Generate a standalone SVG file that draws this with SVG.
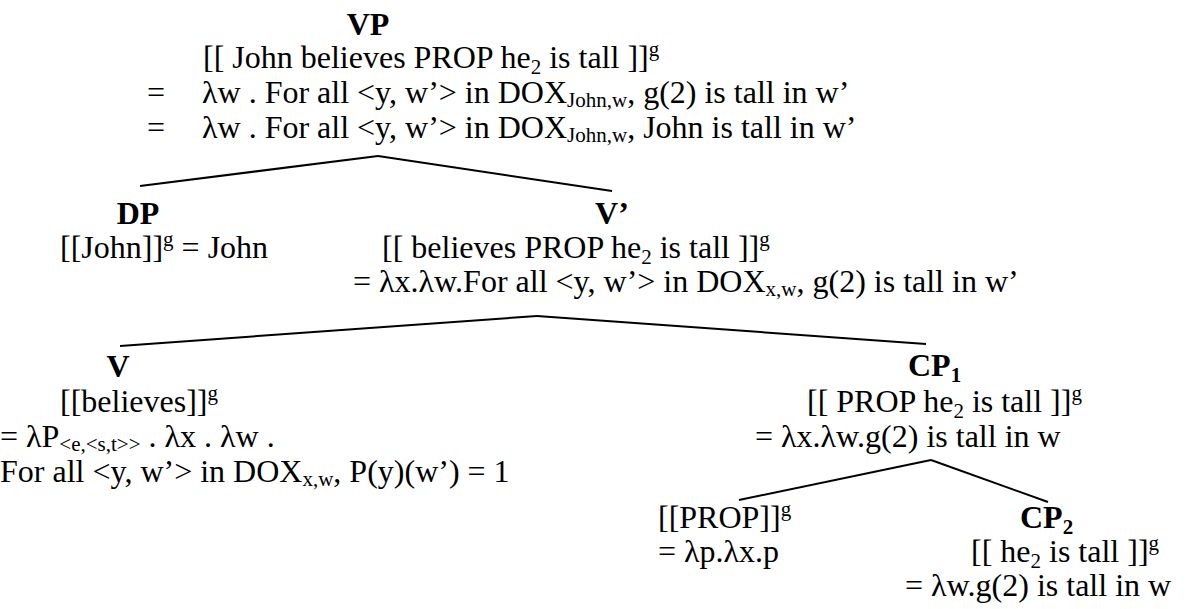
<svg xmlns="http://www.w3.org/2000/svg" width="1187" height="609" viewBox="0 0 1187 609">
<style>
text{font-family:"Liberation Serif","Times New Roman",serif;font-size:32px;fill:#000}
.b{font-weight:bold}
.s{font-size:21px}
.conn line{stroke:#000;stroke-width:2}
</style>
<rect width="1187" height="609" fill="#fff"/>
<g id="VP">
<text class="b" x="368" y="35" text-anchor="middle">VP</text>
<text x="203" y="68">[[ John believes PROP he<tspan class="s" dy="6">2</tspan><tspan dy="-6"> is tall ]]</tspan><tspan class="s" dy="-12">g</tspan></text>
<text x="147" y="103">=</text>
<text x="202" y="103">λw . For all &lt;y, w’&gt; in DOX<tspan class="s" dy="4">John,w</tspan><tspan dy="-4">, g(2) is tall in w’</tspan></text>
<text x="147" y="138">=</text>
<text x="202" y="138">λw . For all &lt;y, w’&gt; in DOX<tspan class="s" dy="4">John,w</tspan><tspan dy="-4">, John is tall in w’</tspan></text>
</g>
<g id="DP">
<text class="b" x="138" y="224" text-anchor="middle">DP</text>
<text x="60" y="258">[[John]]<tspan class="s" dy="-12">g</tspan><tspan dy="12"> = John</tspan></text>
</g>
<g id="Vbar">
<text class="b" x="612" y="224" text-anchor="middle">V’</text>
<text x="382" y="258">[[ believes PROP he<tspan class="s" dy="6">2</tspan><tspan dy="-6"> is tall ]]</tspan><tspan class="s" dy="-12">g</tspan></text>
<text x="353" y="292">= λx.λw.For all &lt;y, w’&gt; in DOX<tspan class="s" dy="4">x,w</tspan><tspan dy="-4">, g(2) is tall in w’</tspan></text>
</g>
<g id="V">
<text class="b" x="118" y="377" text-anchor="middle">V</text>
<text x="60" y="412">[[believes]]<tspan class="s" dy="-12">g</tspan></text>
<text x="0" y="447">= λP<tspan class="s" dy="4">&lt;e,&lt;s,t&gt;&gt;</tspan><tspan dy="-4"> . λx . λw .</tspan></text>
<text x="0" y="482">For all &lt;y, w’&gt; in DOX<tspan class="s" dy="4">x,w</tspan><tspan dy="-4">, P(y)(w’) = 1</tspan></text>
</g>
<g id="CP1">
<text class="b" x="908" y="376">CP<tspan class="s" dy="6">1</tspan></text>
<text x="807" y="412">[[ PROP he<tspan class="s" dy="6">2</tspan><tspan dy="-6"> is tall ]]</tspan><tspan class="s" dy="-12">g</tspan></text>
<text x="755" y="447">= λx.λw.g(2) is tall in w</text>
</g>
<g id="PROP">
<text x="658" y="528">[[PROP]]<tspan class="s" dy="-12">g</tspan></text>
<text x="658" y="562">= λp.λx.p</text>
</g>
<g id="CP2">
<text class="b" x="1020" y="528">CP<tspan class="s" dy="6">2</tspan></text>
<text x="971" y="562">[[ he<tspan class="s" dy="6">2</tspan><tspan dy="-6"> is tall ]]</tspan><tspan class="s" dy="-12">g</tspan></text>
<text x="905" y="596">= λw.g(2) is tall in w</text>
</g>
<g class="conn" id="connectors">
<line x1="378" y1="156" x2="140" y2="186"/>
<line x1="378" y1="156" x2="612" y2="191"/>
<line x1="537" y1="316" x2="120" y2="346"/>
<line x1="537" y1="316" x2="926" y2="344"/>
<line x1="931" y1="460" x2="739" y2="500"/>
<line x1="931" y1="460" x2="1048" y2="502"/>
</g>
</svg>
